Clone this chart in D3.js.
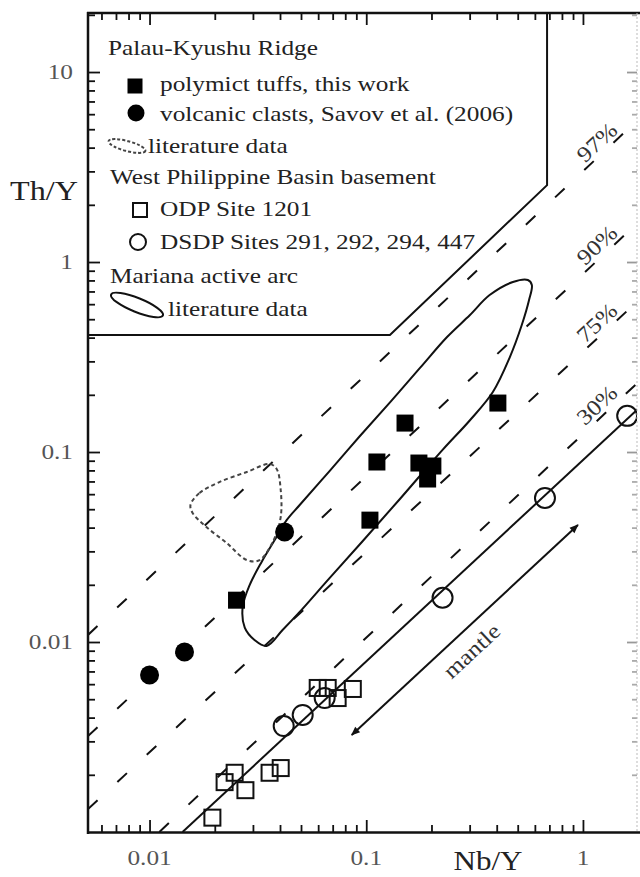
<!DOCTYPE html>
<html>
<head>
<meta charset="UTF-8">
<title>Th/Y vs Nb/Y</title>
<style>
  html, body { margin: 0; padding: 0; background: #fff; }
  svg { display: block; }
  text { font-family: "Liberation Serif", "Times New Roman", serif; }
</style>
</head>
<body>
<svg width="640" height="877"></svg>
<script src="https://d3js.org/d3.v7.min.js"></script>
<script>
// points are [Nb/Y, Th/Y]
var tuffs = [[0.405, 0.181], [0.151, 0.142], [0.112, 0.0886], [0.175, 0.0875],
             [0.203, 0.0844], [0.192, 0.0721], [0.104, 0.0438], [0.0252, 0.0166]];
var clasts = [[0.0100, 0.0067], [0.0145, 0.00886], [0.042, 0.0379]];
var odp1201 = [[0.0195, 0.00119], [0.0222, 0.00183], [0.0247, 0.00205], [0.0277, 0.00166],
               [0.0358, 0.00205], [0.0403, 0.00217], [0.0597, 0.00573], [0.0664, 0.00573],
               [0.0738, 0.00507], [0.0867, 0.00566]];
var dsdp = [[1.6, 0.155], [0.668, 0.0573], [0.225, 0.0171], [0.0416, 0.00361],
            [0.0509, 0.00413], [0.0643, 0.00507]];

// constant Th/Nb lines (% subduction Th)
var ratioLabels = ["97%", "90%", "75%", "30%"];
var ratioStart = [[0.0052, 0.0109], [0.0052, 0.0032], [0.0052, 0.00132], [0.0111, 0.001]];
var ratioEnd = [[2, 6.3], [2, 1.81], [2, 0.70], [2, 0.261]];

var mantleArray = [[0.0142, 0.001], [2, 0.189]];
var mantleArrow = [[0.0857, 0.00324], [0.948, 0.0413]];

// Mariana active arc field
var mariana = [[0.557, 0.804], [0.475, 0.785], [0.371, 0.670], [0.301, 0.526], [0.236, 0.403],
               [0.177, 0.277], [0.129, 0.183], [0.0933, 0.121], [0.0677, 0.0794], [0.0493, 0.0526],
               [0.0430, 0.0439], [0.0378, 0.0344], [0.0329, 0.0264], [0.0290, 0.0200], [0.0269, 0.0153],
               [0.0275, 0.0119], [0.0305, 0.01025], [0.0347, 0.00953], [0.0411, 0.01156], [0.0493, 0.0144],
               [0.0677, 0.0217], [0.0964, 0.0340], [0.143, 0.0566], [0.225, 0.1026], [0.301, 0.147],
               [0.384, 0.207], [0.460, 0.316], [0.522, 0.466], [0.564, 0.631], [0.581, 0.757]];
// Palau-Kyushu literature field
var palau = [[0.01545, 0.0526], [0.0170, 0.0608], [0.0210, 0.0695], [0.0281, 0.0785], [0.0358, 0.0865],
             [0.0386, 0.0814], [0.0403, 0.0631], [0.0403, 0.0455], [0.0374, 0.0344], [0.0322, 0.0270],
             [0.0281, 0.0270], [0.0227, 0.0332], [0.0183, 0.0403], [0.0158, 0.0478]];

var legendBox = [[0.0052, 20.45], [0.683, 20.45], [0.683, 2.54], [0.1286, 0.413], [0.0052, 0.413]];

var xMajor = [0.01, 0.1, 1], xMajorText = ["0.01", "0.1", "1"];
var yMajor = [0.01, 0.1, 1, 10], yMajorText = ["0.01", "0.1", "1", "10"];

var svg = d3.select("svg");
var x = d3.scaleLog().domain([0.0052, 1.776]).range([88, 637]);
var y = d3.scaleLog().domain([0.001, 20.45]).range([832, 13]);

var SX = 1.15; // text in the figure is a bit wider than Times
function label(g, px, py, str, size, anchor, fill, rot) {
  return g.append("text")
    .attr("transform", "translate(" + px + "," + py + ")" + (rot ? " rotate(" + rot + ")" : "") + " scale(" + SX + ",1)")
    .attr("text-anchor", anchor || "start")
    .attr("font-size", size)
    .attr("fill", fill || "#222")
    .text(str);
}

function minorTicks(dom) {
  var out = [];
  for (var e = -4; e <= 2; e++) {
    for (var k = 2; k <= 9; k++) {
      var v = k * Math.pow(10, e);
      if (v > dom[0] * 1.01 && v < dom[1] * 0.98) out.push(v);
    }
  }
  return out;
}

var defs = svg.append("defs");
defs.append("clipPath").attr("id", "plot")
  .append("rect").attr("x", 88).attr("y", 13).attr("width", 549).attr("height", 819);
defs.append("marker").attr("id", "arr").attr("viewBox", "0 -5 10 10")
  .attr("refX", 9).attr("refY", 0).attr("markerUnits", "userSpaceOnUse")
  .attr("markerWidth", 11).attr("markerHeight", 9).attr("orient", "auto-start-reverse")
  .append("path").attr("d", "M0,-4L10,0L0,4Z").attr("fill", "#111");

var line = d3.line().x(function (d) { return x(d[0]); }).y(function (d) { return y(d[1]); });
var plot = svg.append("g").attr("clip-path", "url(#plot)");

// dashed ratio lines
plot.selectAll(".ratio").data(ratioLabels).enter().append("path")
  .attr("d", function (d, i) { return line([ratioStart[i], ratioEnd[i]]); })
  .attr("fill", "none").attr("stroke", "#111").attr("stroke-width", 2)
  .attr("stroke-dasharray", "13,27");

plot.append("path").attr("d", line(mantleArray))
  .attr("fill", "none").attr("stroke", "#111").attr("stroke-width", 2);

plot.append("path").attr("d", line(mantleArrow))
  .attr("fill", "none").attr("stroke", "#111").attr("stroke-width", 2)
  .attr("marker-start", "url(#arr)").attr("marker-end", "url(#arr)");

// fields
var fieldLine = d3.line().curve(d3.curveCatmullRomClosed.alpha(0.5))
  .x(function (d) { return x(d[0]); }).y(function (d) { return y(d[1]); });
plot.append("path").attr("d", fieldLine(mariana))
  .attr("fill", "none").attr("stroke", "#111").attr("stroke-width", 2);
plot.append("path").attr("d", fieldLine(palau))
  .attr("fill", "none").attr("stroke", "#444").attr("stroke-width", 2)
  .attr("stroke-dasharray", "4,3");

// markers
plot.selectAll(".odp").data(odp1201).enter().append("rect")
  .attr("x", function (d) { return x(d[0]) - 8; }).attr("y", function (d) { return y(d[1]) - 8; })
  .attr("width", 16).attr("height", 16)
  .attr("fill", "none").attr("stroke", "#111").attr("stroke-width", 2);
plot.selectAll(".dsdp").data(dsdp).enter().append("circle")
  .attr("cx", function (d) { return x(d[0]); }).attr("cy", function (d) { return y(d[1]); })
  .attr("r", 10).attr("fill", "none").attr("stroke", "#111").attr("stroke-width", 2);
plot.selectAll(".tuff").data(tuffs).enter().append("rect")
  .attr("x", function (d) { return x(d[0]) - 8.5; }).attr("y", function (d) { return y(d[1]) - 8.5; })
  .attr("width", 17).attr("height", 17).attr("fill", "#000");
plot.selectAll(".clast").data(clasts).enter().append("circle")
  .attr("cx", function (d) { return x(d[0]); }).attr("cy", function (d) { return y(d[1]); })
  .attr("r", 9.5).attr("fill", "#000");

// percent labels above their lines
function yAt(a, b, xv) {
  var t = (Math.log10(xv) - Math.log10(a[0])) / (Math.log10(b[0]) - Math.log10(a[0]));
  return Math.pow(10, Math.log10(a[1]) + t * (Math.log10(b[1]) - Math.log10(a[1])));
}
var labX = 1.16;
ratioLabels.forEach(function (s, i) {
  label(svg, x(labX), y(yAt(ratioStart[i], ratioEnd[i], labX)) - 16, s, 22, "middle", "#333", -43)
    .attr("dominant-baseline", "central")
    .attr("stroke", "#fff").attr("stroke-width", 5).attr("paint-order", "stroke");
});

// mantle label along the arrow
(function () {
  var x0 = x(mantleArrow[0][0]), y0 = y(mantleArrow[0][1]);
  var x1 = x(mantleArrow[1][0]), y1 = y(mantleArrow[1][1]);
  var t = 0.47, len = Math.hypot(x1 - x0, y1 - y0);
  var nx = -(y1 - y0) / len, ny = (x1 - x0) / len; // points down-right
  var ang = Math.atan2(y1 - y0, x1 - x0) * 180 / Math.PI;
  label(svg, x0 + t * (x1 - x0) + nx * 20, y0 + t * (y1 - y0) + ny * 20, "mantle", 22, "middle", "#333", ang)
    .attr("dominant-baseline", "central");
})();

// legend box
svg.append("path").attr("d", line(legendBox) + "Z")
  .attr("fill", "#fff").attr("stroke", "#111").attr("stroke-width", 2);

var lg = svg.append("g");
label(lg, 108, 55, "Palau-Kyushu Ridge", 22);
lg.append("rect").attr("x", 127.5).attr("y", 78.5).attr("width", 15).attr("height", 15).attr("fill", "#000");
label(lg, 160, 91, "polymict tuffs, this work", 22);
lg.append("circle").attr("cx", 136).attr("cy", 113).attr("r", 8.5).attr("fill", "#000");
label(lg, 160, 121, "volcanic clasts, Savov et al. (2006)", 22);
lg.append("ellipse").attr("cx", 127).attr("cy", 146).attr("rx", 19).attr("ry", 5)
  .attr("transform", "rotate(15,127,146)")
  .attr("fill", "none").attr("stroke", "#444").attr("stroke-width", 2).attr("stroke-dasharray", "3,2");
label(lg, 148, 153, "literature data", 22);
label(lg, 110, 184, "West Philippine Basin basement", 22);
lg.append("rect").attr("x", 133).attr("y", 203).attr("width", 14).attr("height", 14)
  .attr("fill", "none").attr("stroke", "#111").attr("stroke-width", 2);
label(lg, 160, 216, "ODP Site 1201", 22);
lg.append("circle").attr("cx", 138).attr("cy", 242).attr("r", 8)
  .attr("fill", "none").attr("stroke", "#111").attr("stroke-width", 2);
label(lg, 160, 249, "DSDP Sites 291, 292, 294, 447", 22);
label(lg, 110, 283, "Mariana active arc", 22);
lg.append("ellipse").attr("cx", 137).attr("cy", 305).attr("rx", 28).attr("ry", 7)
  .attr("transform", "rotate(22,137,305)")
  .attr("fill", "none").attr("stroke", "#111").attr("stroke-width", 2);
label(lg, 168, 316, "literature data", 22);

// axes, ticks pointing inward
function styleAxis(g) {
  g.select(".domain").remove();
  g.selectAll(".tick line").attr("stroke", "#111").attr("stroke-width", 1.8);
}
var xMinor = minorTicks(x.domain()), yMinor = minorTicks(y.domain());
svg.append("g").attr("transform", "translate(0,832)")
  .call(d3.axisBottom(x).tickValues(xMajor).tickSize(-12).tickFormat("")).call(styleAxis);
svg.append("g").attr("transform", "translate(0,832)")
  .call(d3.axisBottom(x).tickValues(xMinor).tickSize(-7).tickFormat("")).call(styleAxis);
svg.append("g").attr("transform", "translate(0,13)")
  .call(d3.axisTop(x).tickValues(xMajor).tickSize(-12).tickFormat("")).call(styleAxis);
svg.append("g").attr("transform", "translate(0,13)")
  .call(d3.axisTop(x).tickValues(xMinor).tickSize(-7).tickFormat("")).call(styleAxis);
svg.append("g").attr("transform", "translate(88,0)")
  .call(d3.axisLeft(y).tickValues(yMajor).tickSize(-12).tickFormat("")).call(styleAxis);
svg.append("g").attr("transform", "translate(88,0)")
  .call(d3.axisLeft(y).tickValues(yMinor).tickSize(-7).tickFormat("")).call(styleAxis);
var rMaj = svg.append("g").attr("transform", "translate(637,0)")
  .call(d3.axisRight(y).tickValues(yMajor).tickSize(-10).tickFormat("")).call(styleAxis);
var rMin = svg.append("g").attr("transform", "translate(637,0)")
  .call(d3.axisRight(y).tickValues(yMinor).tickSize(-5).tickFormat("")).call(styleAxis);
rMaj.selectAll(".tick line").attr("stroke", "#999");
rMin.selectAll(".tick line").attr("stroke", "#aaa");

// frame
svg.append("line").attr("x1", 87).attr("x2", 640).attr("y1", 13).attr("y2", 13).attr("stroke", "#111").attr("stroke-width", 2.5);
svg.append("line").attr("x1", 87).attr("x2", 640).attr("y1", 832.5).attr("y2", 832.5).attr("stroke", "#111").attr("stroke-width", 2.5);
svg.append("line").attr("x1", 88).attr("x2", 88).attr("y1", 12).attr("y2", 834).attr("stroke", "#111").attr("stroke-width", 2.5);
svg.append("line").attr("x1", 637).attr("x2", 637).attr("y1", 13).attr("y2", 832).attr("stroke", "#bbb").attr("stroke-width", 1)
  .attr("stroke-dasharray", "2,2");

// tick labels and titles
xMajor.forEach(function (v, i) { label(svg, x(v), 865, xMajorText[i], 22, "middle", "#555"); });
yMajor.forEach(function (v, i) { label(svg, 73, y(v) + 7, yMajorText[i], 22, "end", "#555"); });
label(svg, 10, 200, "Th/Y", 28, "start", "#222");
label(svg, 488, 870, "Nb/Y", 27, "middle", "#222");
</script>
</body>
</html>
